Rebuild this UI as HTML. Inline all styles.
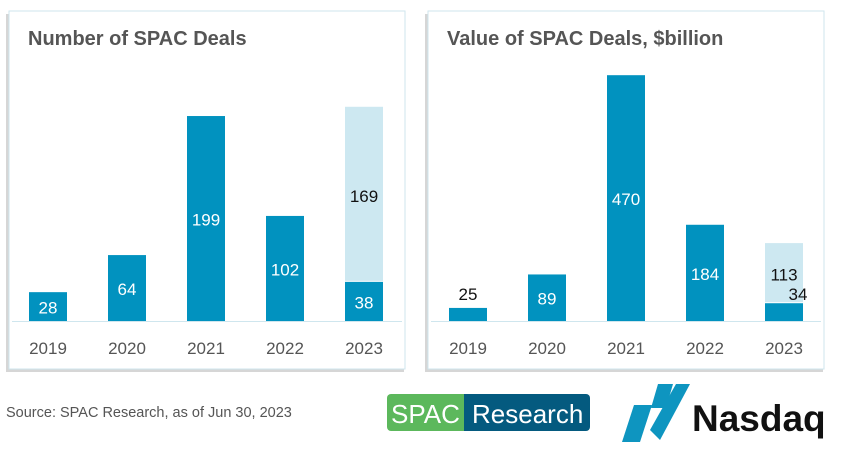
<!DOCTYPE html>
<html><head><meta charset="utf-8">
<style>
body{margin:0;width:846px;height:453px;background:#fff;font-family:"Liberation Sans",sans-serif;overflow:hidden;position:relative}
svg{position:absolute;left:0;top:0}
</style></head>
<body>
<svg id="s" width="846" height="453">
<rect x="6" y="14" width="398" height="358" fill="#bbb" opacity="0.6"/>
<rect x="9" y="11" width="396" height="358" fill="#fff" stroke="#cfe6ee"/>
<rect x="425" y="14" width="398" height="358" fill="#bbb" opacity="0.6"/>
<rect x="428" y="11" width="396" height="358" fill="#fff" stroke="#cfe6ee"/>
<text x="28" y="45" font-size="20" font-weight="bold" fill="#555">Number of SPAC Deals</text>
<text x="447" y="45" font-size="20" font-weight="bold" fill="#555">Value of SPAC Deals, $billion</text>
<line x1="12" y1="321.5" x2="402" y2="321.5" stroke="#cfe6ee"/>
<line x1="431" y1="321.5" x2="821" y2="321.5" stroke="#cfe6ee"/>
<text x="6" y="417" font-size="14.5" fill="#555">Source:  SPAC Research, as of Jun 30, 2023</text>
<g>
<rect x="387" y="394" width="84" height="37" rx="4" fill="#5cb85c"/>
<rect x="464" y="394" width="126" height="37" rx="4" fill="#045a7f"/>
<rect x="464" y="394" width="10" height="37" fill="#045a7f"/>
<text x="391" y="423" font-size="26" fill="#fff">SPAC</text>
<text x="472" y="423" font-size="26" fill="#fff">Research</text>
</g>
<g>
<polygon points="622,442 640,442 652,405 634,405" fill="#0e95c0"/>
<polygon points="651,408 666,408 673,384 658,384" fill="#0e95c0"/>
<polygon points="676,384 690,384 660,440 650,430" fill="#0e95c0"/>
<text x="692" y="431" font-size="37" font-weight="bold" fill="#111">Nasdaq</text>
</g>
</svg>
<script>
const years=["2019","2020","2021","2022","2023"];
const dealsClosed=[28,64,199,102,38];
const dealsPending=[0,0,0,0,169];
const valueClosed=[25,89,470,184,34];
const valuePending=[0,0,0,0,113];
const s=document.getElementById('s');
const NS='http://www.w3.org/2000/svg';
function mk(tag,a){const e=document.createElementNS(NS,tag);for(const k in a)e.setAttribute(k,a[k]);s.appendChild(e);return e;}
const base=321;
function drawChart(x0,step,scale,closed,pending,prefix,right){
 years.forEach((y,i)=>{
  const cx=x0+i*step;
  const h=closed[i]*scale;
  const b=mk('rect',{x:cx-19,y:base-h,width:38,height:h,fill:'#0192bf'});
  
  
  if(pending[i]>0){
   const ph=pending[i]*scale;
   const p=mk('rect',{x:cx-19,y:base-h-ph-1,width:38,height:ph,fill:'#cde8f1'});
   
   
   const pt=mk('text',{x:cx,y:base-h-ph/2+7,'font-size':17,'text-anchor':'middle',fill:'#111'});
   pt.textContent=pending[i];
   
   
  }
  let lx=cx,ly=base-h/2+7,col='#fff';
  if(h<20){
   if(right&&pending[i]>0){lx=cx+14;ly=base-21;col='#111';}
   else if(right){ly=base-h-8;col='#111';}
   if(!right){ly=base-7;}
  }
  const t=mk('text',{x:lx,y:ly,'font-size':17,'text-anchor':'middle',fill:col});
  t.textContent=closed[i];
  
  
  const yl=mk('text',{x:cx,y:354,'font-size':17,'text-anchor':'middle',fill:'#555'});
  yl.textContent=y;
  
  
 });
}
drawChart(48,79,1.03,dealsClosed,dealsPending,'deals',false);
drawChart(468,79,0.523,valueClosed,valuePending,'value',true);
</script>
</body></html>
